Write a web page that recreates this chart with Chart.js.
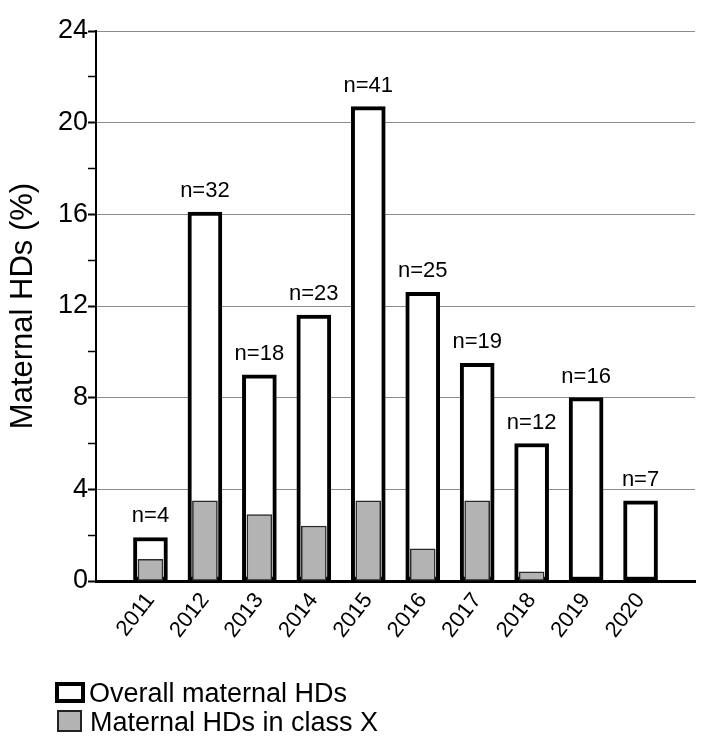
<!DOCTYPE html>
<html>
<head>
<meta charset="utf-8">
<script src="https://cdn.jsdelivr.net/npm/chart.js@4/dist/chart.umd.min.js"></script>
<style>
  html, body { margin: 0; padding: 0; background: #fff; }
  #wrap { position: relative; width: 718px; height: 751px; }
</style>
</head>
<body>
<div id="wrap"><canvas id="hdChart" width="718" height="751"></canvas></div>
<script>
const years = [2011, 2012, 2013, 2014, 2015, 2016, 2017, 2018, 2019, 2020];
const overallHDs = [1.9, 16.1, 9.0, 11.6, 20.7, 12.6, 9.5, 6.0, 8.0, 3.5];
const classXHDs = [0.95, 3.5, 2.9, 2.4, 3.5, 1.4, 3.5, 0.4, 0, 0];
const sampleSizes = [4, 32, 18, 23, 41, 25, 19, 12, 16, 7];
const yTicks = [0, 4, 8, 12, 16, 20, 24];

const FONT = "Arial, 'Liberation Sans', Helvetica, sans-serif";

// n=.. labels above the overall bars
const nLabels = {
    id: 'nLabels',
    afterDatasetsDraw(chart) {
        const meta = chart.getDatasetMeta(1);
        const ctx = chart.ctx;
        ctx.save();
        ctx.font = '22px ' + FONT;
        ctx.fillStyle = '#000';
        ctx.textAlign = 'center';
        ctx.textBaseline = 'alphabetic';
        meta.data.forEach((bar, i) => {
            ctx.fillText('n=' + sampleSizes[i], bar.x, bar.y - 15);
        });
        ctx.restore();
    }
};

// legend stacked under the axis
const stackedLegend = {
    id: 'stackedLegend',
    afterDraw(chart) {
        const ctx = chart.ctx;
        const ds = chart.data.datasets;
        ctx.save();
        ctx.font = '27px ' + FONT;
        ctx.textBaseline = 'alphabetic';

        ctx.fillStyle = '#fff';
        ctx.fillRect(55, 682, 30, 21);
        ctx.lineWidth = 4;
        ctx.strokeStyle = '#000';
        ctx.strokeRect(57, 684, 26, 17);
        ctx.fillStyle = '#000';
        ctx.fillText(ds[1].label, 89, 702);

        ctx.fillStyle = '#b3b3b3';
        ctx.fillRect(57, 710, 25, 22);
        ctx.lineWidth = 2;
        ctx.strokeStyle = '#222';
        ctx.strokeRect(58, 711, 23, 20);
        ctx.fillStyle = '#000';
        ctx.fillText(ds[0].label, 90, 731);
        ctx.restore();
    }
};

const ctx = document.getElementById('hdChart').getContext('2d');
new Chart(ctx, {
    type: 'bar',
    data: {
        datasets: [
            {
                label: 'Maternal HDs in class X',
                data: years.map((yr, i) => ({ x: yr, y: classXHDs[i] })),
                backgroundColor: '#b3b3b3',
                borderColor: '#2a2a2a',
                borderWidth: 1.5,
                borderSkipped: false,
                barThickness: 25,
                grouped: false,
                order: 0
            },
            {
                label: 'Overall maternal HDs',
                data: years.map((yr, i) => ({ x: yr, y: overallHDs[i] })),
                backgroundColor: '#ffffff',
                borderColor: '#000000',
                borderWidth: 4,
                borderSkipped: false,
                barThickness: 34,
                grouped: false,
                order: 1
            }
        ]
    },
    options: {
        responsive: false,
        animation: false,
        layout: { padding: { top: 31, right: 23, bottom: 100, left: 0 } },
        scales: {
            x: {
                type: 'linear',
                min: 2010,
                max: 2021,
                offset: false,
                afterFit: (scale) => { scale.height = 70; },
                afterBuildTicks: (scale) => {
                    scale.ticks = years.map(v => ({ value: v }));
                },
                grid: {
                    display: true,
                    drawOnChartArea: false,
                    drawTicks: true,
                    tickLength: 6,
                    tickColor: 'rgba(0,0,0,0)'
                },
                border: { display: true, color: '#000', width: 3 },
                ticks: {
                    color: '#000',
                    font: { family: FONT, size: 22 },
                    maxRotation: 52,
                    minRotation: 52,
                    padding: 1,
                    autoSkip: false,
                    callback: (v) => String(v)
                }
            },
            y: {
                min: 0,
                max: 24,
                afterFit: (scale) => { scale.width = 96; },
                afterBuildTicks: (scale) => {
                    const t = [];
                    for (let v = 0; v <= 24; v += 2) t.push({ value: v });
                    scale.ticks = t;
                },
                grid: {
                    color: (c) => (c.tick && c.tick.value > 0 && yTicks.includes(c.tick.value)) ? '#8c8c8c' : 'rgba(0,0,0,0)',
                    tickColor: '#000',
                    tickWidth: (c) => (c.tick && yTicks.includes(c.tick.value)) ? 2 : 1.5,
                    tickLength: 8,
                    lineWidth: 1
                },
                border: { display: true, color: '#000', width: 2 },
                ticks: {
                    color: '#000',
                    font: { family: FONT, size: 27 },
                    padding: 0,
                    callback: (v) => yTicks.includes(v) ? String(v) : ''
                },
                title: {
                    display: true,
                    text: 'Maternal HDs (%)',
                    color: '#000',
                    font: { family: FONT, size: 31 },
                    padding: { top: 5, bottom: 0 }
                }
            }
        },
        plugins: {
            legend: { display: false },
            tooltip: { enabled: false }
        }
    },
    plugins: [nLabels, stackedLegend]
});
</script>
</body>
</html>
